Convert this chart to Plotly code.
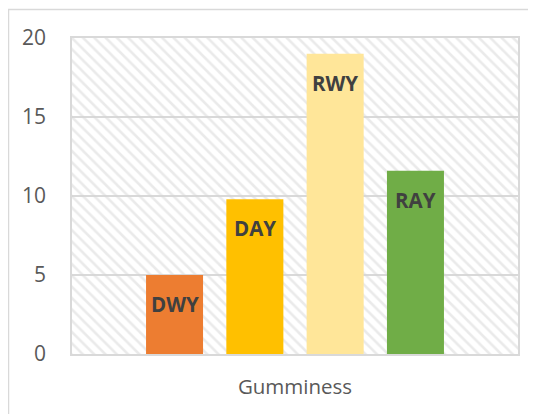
import plotly.graph_objects as go

# ---- data ----
categories = ["DWY", "DAY", "RWY", "RAY"]
values = [5.0, 9.8, 19.0, 11.6]
colors = ["#ED7D31", "#FFC000", "#FFE699", "#70AD47"]
group_label = "Gumminess"
y_ticks = [0, 5, 10, 15, 20]

# ---- layout constants (page is offset 8px by body margin) ----
OFF = 8
W, H = 536, 414
ML, MT = 72 - OFF, 38 - OFF
MR = W - (518 - OFF)
MB = H - (354 - OFF)
x_range = [-1.277, 4.277]
y_range = [0, 20]
bar_width = 0.71

xs = list(range(len(categories)))
x_center = (x_range[0] + x_range[1]) / 2
x_span = x_range[1] - x_range[0]

fig = go.Figure()

# hatched plot-area background (decorative)
fig.add_trace(go.Bar(
    x=[x_center], y=[y_range[1]], width=[x_span], base=0,
    marker=dict(color="rgba(0,0,0,0)", line=dict(width=0),
                pattern=dict(shape="\\", size=8, solidity=0.33,
                             fgcolor="#d6d6d6", bgcolor="rgba(0,0,0,0)",
                             fillmode="overlay")),
    hoverinfo="skip", showlegend=False,
))

fig.add_trace(go.Bar(
    x=xs, y=values, width=bar_width,
    marker=dict(color=colors, line=dict(width=0)),
    showlegend=False,
))

for xi, v, name in zip(xs, values, categories):
    fig.add_annotation(
        x=xi, y=v, text="<b>%s</b>" % name, showarrow=False,
        yanchor="top", yshift=-13,
        font=dict(family="Open Sans", size=20.5, color="#404040"),
    )

plot_w = W - ML - MR
plot_h = H - MT - MB
fig.add_shape(
    type="rect", xref="paper", yref="paper",
    x0=(8 - OFF + 0.5 - ML) / plot_w, x1=1.3,
    y0=-0.5, y1=1 + (MT - (9 - OFF) - 0.5) / plot_h,
    line=dict(color="#d9d9d9", width=1.5), fillcolor="rgba(0,0,0,0)",
    layer="below",
)

fig.update_layout(
    width=W, height=H,
    margin=dict(l=ML, r=MR, t=MT, b=MB),
    paper_bgcolor="white", plot_bgcolor="white",
    barmode="overlay",
    font=dict(family="Open Sans", color="#595959"),
    xaxis=dict(range=x_range, tickvals=[(len(xs) - 1) / 2], ticktext=[group_label],
               showgrid=False, zeroline=False, ticks="",
               tickfont=dict(size=20.5, color="#595959"), ticklabelstandoff=14,
               showline=True, mirror=True, linecolor="#d9d9d9", linewidth=1.5,
               fixedrange=True),
    yaxis=dict(range=y_range, tickvals=y_ticks, showgrid=True,
               gridcolor="#d9d9d9", gridwidth=1.5, zeroline=False, ticks="",
               tickfont=dict(size=21, color="#595959"), ticklabelstandoff=20,
               showline=True, mirror=True, linecolor="#d9d9d9", linewidth=1.5,
               fixedrange=True),
)

fig.write_html("out.html")
